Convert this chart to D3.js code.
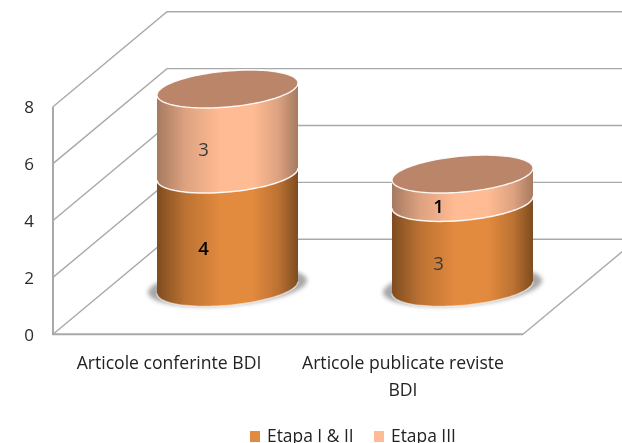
<!DOCTYPE html>
<html><head><meta charset="utf-8">
<script src="https://cdn.jsdelivr.net/npm/d3@7/dist/d3.min.js"></script>
<style>html,body{margin:0;padding:0;background:#fff;overflow:hidden}svg{display:block}</style>
</head><body><svg id="c" width="622" height="443"></svg>
<script>
const categories = [["Articole conferinte BDI"], ["Articole publicate reviste", "BDI"]];
const seriesNames = ["Etapa I & II", "Etapa III"];
const etapa12 = [4, 3];
const etapa3 = [3, 1];
const yTicks = [0, 2, 4, 6, 8];

const W = 622, H = 443;
const svg = d3.select("#c");
const FONT = "'Open Sans', 'Noto Sans', sans-serif";
const GRID = "#a9a9a9";
const depth = {dx: 114, dy: -95};

const yFront = d3.scaleLinear().domain([0, 8]).range([334.3, 106.7]);
const yBar = d3.scaleLinear().domain([0, 7]).range([287.5, 89]);
const colour = d3.scaleOrdinal().domain(seriesNames).range(["#E28A3E", "#FFBB93"]);
const edge = d3.scaleOrdinal().domain(seriesNames).range(["#7E4C20", "#A67A60"]);

const defs = svg.append("defs");
seriesNames.forEach((s, i) => {
  const g = defs.append("linearGradient").attr("id", "g" + i).attr("x1", 0).attr("x2", 1).attr("y1", 0).attr("y2", 0);
  [[0, edge(s)], [0.2, d3.interpolateRgb(edge(s), colour(s))(0.62)], [0.45, colour(s)], [0.68, colour(s)],
   [0.86, d3.interpolateRgb(edge(s), colour(s))(0.62)], [1, edge(s)]]
    .forEach(([o, c]) => g.append("stop").attr("offset", o).attr("stop-color", c));
});
defs.append("filter").attr("id", "shadow").attr("x", "-20%").attr("y", "-50%").attr("width", "140%").attr("height", "200%")
  .append("feGaussianBlur").attr("stdDeviation", 2);
defs.append("filter").attr("id", "soft").attr("x", 0).attr("y", 0).attr("width", "100%").attr("height", "100%")
  .append("feGaussianBlur").attr("stdDeviation", 0.4);

const root = svg.append("g").attr("filter", "url(#soft)");
root.append("rect").attr("width", W).attr("height", H).attr("fill", "#fff");

// Walls and floor
const grid = root.append("g").attr("fill", "none").attr("stroke", GRID);
yTicks.forEach(v => {
  const y = yFront(v);
  grid.append("path").attr("stroke-width", 1.4)
    .attr("d", d3.line()([[53, y], [53 + depth.dx, y + depth.dy], [W + 10, y + depth.dy]]));
});
grid.append("path").attr("stroke-width", 2)
  .attr("d", d3.line()([[53, yFront(8)], [53, yFront(0)], [523, yFront(0)]]));
grid.append("path").attr("stroke-width", 1.4)
  .attr("d", d3.line()([[523, yFront(0)], [523 + depth.dx, yFront(0) + depth.dy]]));

// Y axis labels
const axis = root.append("g").attr("transform", "translate(34,0)")
  .call(d3.axisLeft(yFront).tickValues(yTicks).tickSize(0).tickPadding(0).tickFormat(d3.format("d")));
axis.select(".domain").remove();
axis.selectAll("text").attr("font-family", FONT).attr("font-size", 17).attr("fill", "#2a2a2a").attr("dy", "0.36em");

// Cylinders
const centre = [227.5, 462.5], rx = 70.5, ry = 18, tilt = 6;
const ell = (cx, cy, rxx, ryy, t) => [cx + rxx * Math.cos(t), cy + ryy * Math.sin(t) - tilt * Math.cos(t)];
const steps = d3.range(0, 61).map(i => i / 60 * Math.PI);
const line = d3.line();
const front = (cx, cy) => steps.map(t => ell(cx, cy, rx, ry, t));
const full = (cx, cy, a, b) => line(steps.map(t => ell(cx, cy, a, b, t))
  .concat(steps.map(t => ell(cx, cy, a, b, t + Math.PI)))) + "Z";

categories.forEach((c, i) => {
  const g = root.append("g");
  const cx = centre[i];
  g.append("path").attr("d", full(cx, yBar(0) - 1, rx + 9, ry + 1)).attr("fill", "#a8a8a8").attr("filter", "url(#shadow)");
  const vals = [etapa12[i], etapa3[i]];
  let acc = 0;
  vals.forEach((v, s) => {
    const y0 = yBar(acc), y1 = yBar(acc + v);
    g.append("path")
      .attr("d", line(front(cx, y0).concat(front(cx, y1).reverse())) + "Z")
      .attr("fill", `url(#g${s})`);
    g.append("path").attr("d", line(front(cx, y0))).attr("fill", "none")
      .attr("stroke", "#fff").attr("stroke-opacity", s ? 0.9 : 0.6).attr("stroke-width", 1.5);
    g.append("text").attr("x", cx - 24).attr("y", (y0 + y1) / 2 + 18)
      .attr("text-anchor", "middle").attr("dy", "0.36em")
      .attr("font-family", FONT).attr("font-size", 18.5)
      .attr("fill", v === 3 ? "#3a3a3a" : "#000").attr("font-weight", v === 3 ? 400 : 600).text(v);
    acc += v;
  });
  g.append("path").attr("d", full(cx, yBar(acc), rx, ry)).attr("fill", "#BB8569")
    .attr("stroke", "#fff").attr("stroke-opacity", 0.9).attr("stroke-width", 1.4);
});

// Category labels
const catCentre = [169, 403], catRow = [369, 396];
categories.forEach((c, i) => c.forEach((t, j) => {
  root.append("text").attr("x", catCentre[i]).attr("y", catRow[j]).attr("text-anchor", "middle")
    .attr("font-family", FONT).attr("font-size", 17.6).attr("fill", "#222").text(t);
}));

// Legend
const legX = [250, 374], txtX = [267, 391];
seriesNames.forEach((s, i) => {
  root.append("rect").attr("x", legX[i]).attr("y", 431).attr("width", 10).attr("height", 11).attr("fill", colour(s));
  root.append("text").attr("x", txtX[i]).attr("y", 441.5).attr("font-family", FONT)
    .attr("font-size", 17.4).attr("fill", "#222").text(s);
});
</script></body></html>
